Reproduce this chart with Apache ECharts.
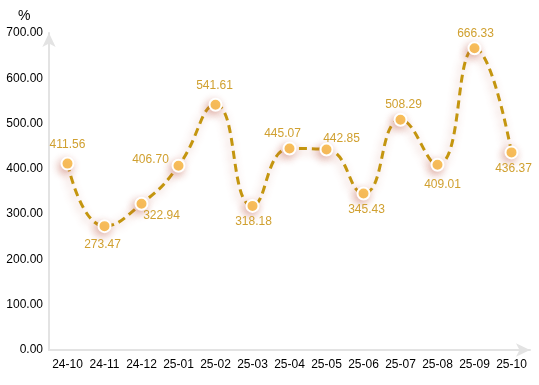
<!DOCTYPE html>
<html>
<head>
<meta charset="utf-8">
<script src="https://cdn.jsdelivr.net/npm/echarts@6/dist/echarts.min.js"></script>
<style>html,body{margin:0;padding:0;background:#fff}#c{width:539px;height:385px}</style>
</head>
<body>
<div id="c"></div>
<script>
var categories = ['24-10','24-11','24-12','25-01','25-02','25-03','25-04','25-05','25-06','25-07','25-08','25-09','25-10'];
var values = [411.56, 273.47, 322.94, 406.70, 541.61, 318.18, 445.07, 442.85, 345.43, 508.29, 409.01, 666.33, 436.37];
var labelOffsets = [[0,-19],[-2,19],[20,12],[-28,-6],[-1,-19],[1,16],[-7,-15],[15,-11],[3,16],[3,-15],[5,20],[1,-15],[2,16]];

var chart = echarts.init(document.getElementById('c'));
chart.setOption({
  animation: false,
  title: { text: '%', left: 13, top: 4, textStyle: { fontSize: 14, fontWeight: 'normal', color: '#000', fontFamily: 'Liberation Sans, Arial, sans-serif' } },
  grid: { left: 49, right: 9, top: 33, bottom: 35 },
  xAxis: {
    type: 'category',
    data: categories,
    axisLine: { symbol: ['none','arrow'], symbolSize: [10, 14], lineStyle: { color: '#e3e3e3', width: 2 } },
    axisTick: { show: false },
    axisLabel: { color: '#000', fontSize: 12, fontFamily: 'Liberation Sans, Arial, sans-serif', margin: 9, interval: 0 }
  },
  yAxis: {
    type: 'value',
    min: 0, max: 700, interval: 100,
    axisLine: { show: true, symbol: ['none','arrow'], symbolSize: [10, 14], lineStyle: { color: '#e3e3e3', width: 2 } },
    axisTick: { show: false },
    splitLine: { show: false },
    axisLabel: { color: '#000', fontSize: 12, fontFamily: 'Liberation Sans, Arial, sans-serif', margin: 6, formatter: function(v){ return v.toFixed(2); } }
  },
  series: [{
    type: 'line',
    smooth: true,
    data: values.map(function(v, i){
      return { value: v, label: { offset: labelOffsets[i] } };
    }),
    symbol: 'circle',
    symbolSize: 12,
    itemStyle: { color: '#fcc65c', borderColor: '#fff', borderWidth: 2, shadowColor: 'rgba(190,90,70,0.45)', shadowBlur: 8, shadowOffsetX: -2, shadowOffsetY: 3 },
    lineStyle: { color: '#c4960f', width: 3, type: [8, 5], shadowColor: 'rgba(190,90,70,0.45)', shadowBlur: 8, shadowOffsetX: -2, shadowOffsetY: 3 },
    label: {
      show: true,
      position: 'inside',
      color: '#d0a030',
      fontSize: 12,
      fontFamily: 'Liberation Sans, Arial, sans-serif',
      formatter: function(p){ return p.value.toFixed(2); }
    }
  }]
});
</script>
</body>
</html>
